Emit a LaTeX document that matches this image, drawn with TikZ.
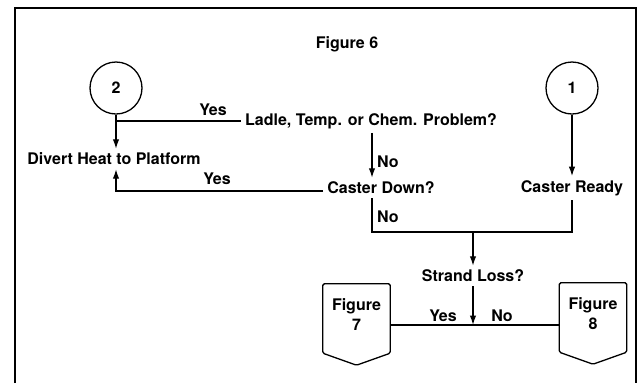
\documentclass[tikz,border=0pt]{standalone}
\usepackage{fontspec}
\setmainfont{TeX Gyre Heros}
\usetikzlibrary{arrows.meta,positioning,calc}
\tikzset{>={Latex[length=9.5bp,width=6.5bp]},every node/.style={font=\fontsize{16bp}{19.5bp}\selectfont\bfseries,inner sep=4bp},
 conn/.style={draw,line width=1.3bp},
 onpage/.style={circle,draw,line width=1.3bp,minimum size=52bp,inner sep=0pt},
 offpage/.style={minimum width=67bp,minimum height=61bp,inner sep=0pt,align=center},
 lab/.style={inner sep=1bp}}

\begin{document}
\begin{tikzpicture}[x=1bp,y=-1bp]
\useasboundingbox (0,0) rectangle (643,383);
\draw[line width=1.5bp] (15,383)--(15,8)--(636,8)--(636,383);
\node (title) at (347,44){Figure 6};
\node[onpage] (c2) at (116,88){2};
\node[onpage] (c1) at (572,88){1};
\node (divert) at (114,159){Divert Heat to Platform};
\node[anchor=west] (ladle) at (241,121){Ladle, Temp. or Chem. Problem?};
\node (down) at (381,188){Caster Down?};
\node (ready) at (572,188){Caster Ready};
\node (strand) at (473,276){Strand Loss?};
\node[offpage] (f7) at (356.5,314.5){Figure\\7};
\node[offpage] (f8) at (593,313.5){Figure\\8};
\foreach \f in {f7,f8}
 \draw[line width=1.3bp,rounded corners=1.5bp] ([yshift=-8bp]\f.south west)--(\f.north west)--(\f.north east)
  --([yshift=-8bp]\f.south east)--([yshift=-20bp]\f.south)--cycle;
\coordinate (nx) at (372,0);
\coordinate (mrg) at (473,232);
\coordinate (spl) at (473,325);
\draw[conn,->] (c2)--(divert.north -| c2);
\draw[conn] (ladle.west -| c2)--(ladle.west);
\node[lab] (yes1) at (213,110){Yes};
\draw[conn,->] (ladle.south -| nx)--(down.north -| nx);
\node[lab,anchor=west] (no1) at (376,162){No};
\draw[conn,->] ([yshift=-3bp]down.west)-|(divert.south -| c2);
\node[lab] (yes2) at (217,179){Yes};
\draw[conn,->] (c1)--(ready.north);
\draw[conn] (down.south -| nx)|-(mrg)-|(ready.south);
\node[lab,anchor=west] (no2) at (376,217){No};
\draw[conn,->] (mrg)--(strand.north);
\draw[conn,->] (strand.south)--(spl);
\draw[conn] (f7.east |- spl)--(f8.west |- spl);
\node[lab] (yes3) at (443,316){Yes};
\node[lab] (no3) at (502,316){No};
\end{tikzpicture}
\end{document}
